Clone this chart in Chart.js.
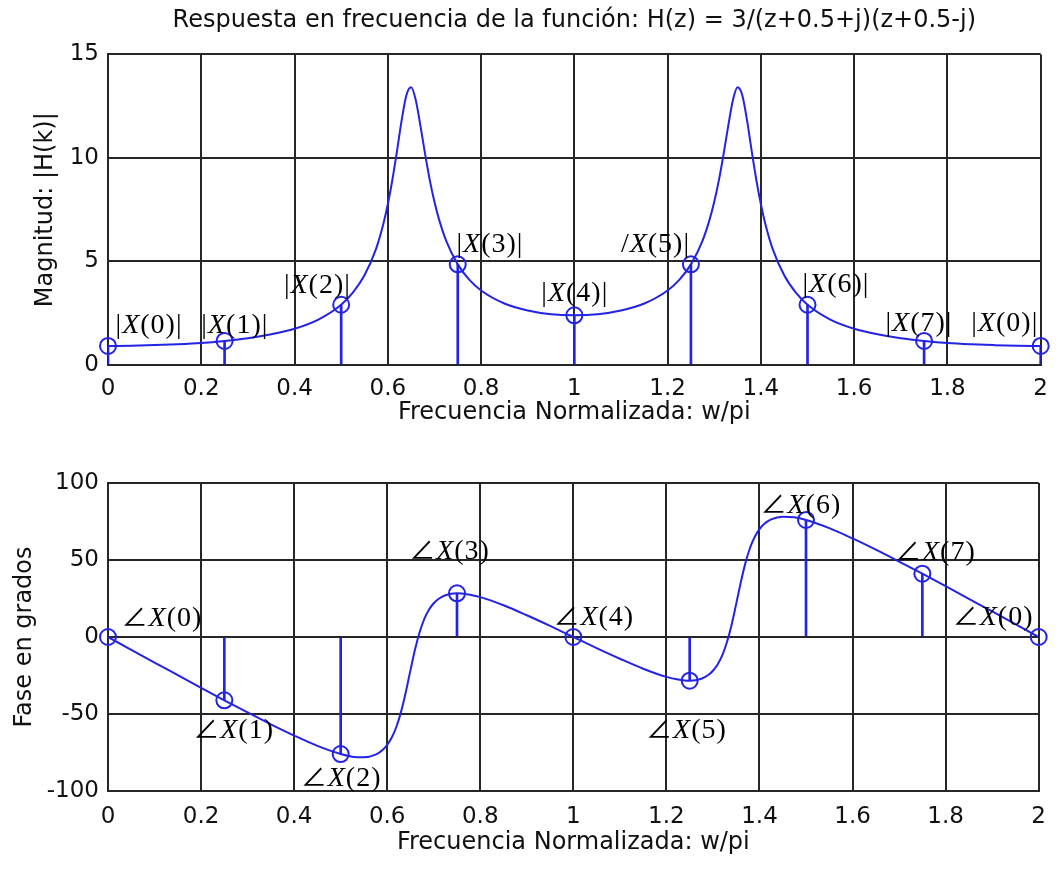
<!DOCTYPE html>
<html>
<head>
<meta charset="utf-8">
<script src="https://cdn.jsdelivr.net/npm/chart.js@4.4.0/dist/chart.umd.min.js"></script>
<style>
  html, body { margin: 0; padding: 0; background: #fff; }
  #wrap { position: relative; width: 1058px; height: 869px; }
  canvas { position: absolute; left: 0; }
</style>
</head>
<body>
<div id="wrap">
  <canvas id="magChart" width="1058" height="440" style="top:0;width:1058px;height:440px"></canvas>
  <canvas id="faseChart" width="1058" height="429" style="top:440px;width:1058px;height:429px"></canvas>
</div>
<script>
// Curva continua (w/pi, magnitud, fase en grados)
const frecuencia = [0, 0.05, 0.1, 0.15, 0.2, 0.25, 0.3, 0.35, 0.4, 0.45,
  0.5, 0.525, 0.55, 0.575, 0.59, 0.6, 0.61, 0.62, 0.63, 0.64,
  0.65, 0.66, 0.67, 0.68, 0.69, 0.7, 0.71, 0.725, 0.75, 0.775,
  0.8, 0.85, 0.9, 0.95, 1.0,
  1.05, 1.1, 1.15, 1.2, 1.225, 1.25, 1.275, 1.29, 1.3, 1.31,
  1.32, 1.33, 1.34, 1.35, 1.36, 1.37, 1.38, 1.39, 1.4, 1.41,
  1.425, 1.45, 1.475, 1.5, 1.55, 1.6, 1.65, 1.7, 1.75, 1.8,
  1.85, 1.9, 1.95, 2.0];

const magnitud = [0.92, 0.93, 0.96, 1.00, 1.06, 1.16, 1.29, 1.48, 1.75, 2.18,
  2.91, 3.49, 4.33, 5.62, 6.77, 7.76, 8.97, 10.38, 11.86, 13.04,
  13.41, 12.79, 11.55, 10.18, 8.93, 7.88, 7.02, 6.01, 4.86, 4.11,
  3.60, 2.97, 2.63, 2.45, 2.40,
  2.45, 2.63, 2.97, 3.60, 4.11, 4.86, 6.01, 7.02, 7.88, 8.93,
  10.18, 11.55, 12.79, 13.41, 13.04, 11.86, 10.38, 8.97, 7.76, 6.77,
  5.62, 4.33, 3.49, 2.91, 2.18, 1.75, 1.48, 1.29, 1.16, 1.06,
  1.00, 0.96, 0.93, 0.92];

const fase = [0, -8.3, -16.6, -24.8, -33.0, -41.1, -49.0, -56.7, -64.0, -70.7,
  -76.0, -77.7, -78.1, -76.4, -73.4, -70.0, -65.1, -58.1, -48.3, -35.7,
  -21.5, -7.8, 3.4, 11.9, 17.8, 21.9, 24.7, 27.1, 28.4, 27.6,
  25.9, 20.6, 14.1, 7.2, 0,
  -7.2, -14.1, -20.6, -25.9, -27.6, -28.4, -27.1, -24.7, -21.9, -17.8,
  -11.9, -3.4, 7.8, 21.5, 35.7, 48.3, 58.1, 65.1, 70.0, 73.4,
  76.4, 78.1, 77.7, 76.0, 70.7, 64.0, 56.7, 49.0, 41.1, 33.0,
  24.8, 16.6, 8.3, 0];

// Muestras X(k) de la DFT de 8 puntos
const frecK = [0, 0.25, 0.5, 0.75, 1, 1.25, 1.5, 1.75, 2];
const magK = [0.92, 1.16, 2.91, 4.86, 2.40, 4.86, 2.91, 1.16, 0.92];
const faseK = [0, -41.1, -76.0, 28.4, 0, -28.4, 76.0, 41.1, 0];

// Textos de las etiquetas
const textosMag = ['|X(0)|', '|X(1)|', '|X(2)|', '|X(3)|', '|X(4)|', '/X(5)|', '|X(6)|', '|X(7)|', '|X(0)|'];
const textosFase = ['\u2220X(0)', '\u2220X(1)', '\u2220X(2)', '\u2220X(3)', '\u2220X(4)', '\u2220X(5)', '\u2220X(6)', '\u2220X(7)', '\u2220X(0)'];

// Donde va el centro de cada etiqueta (unidades de los ejes)
const posMag = [[0.088, 1.93], [0.272, 1.93], [0.449, 3.86], [0.819, 5.84], [1.001, 3.47],
  [1.174, 5.84], [1.561, 3.91], [1.739, 2.03], [1.923, 2.03]];
const posFase = [[0.116, 12.3], [0.270, -60.6], [0.501, -91.6], [0.734, 55.5], [1.044, 12.9],
  [1.243, -60.6], [1.489, 85.2], [1.778, 54.8], [1.902, 12.9]];

const azul = 'rgb(35,35,230)';
const rejilla = '#262626';
const tamLetra = 28;

Chart.defaults.font.family = "'DejaVu Sans', sans-serif";
Chart.defaults.color = '#111';

function pluginEtiquetas(textos, posiciones) {
  return {
    id: 'etiquetas',
    afterDatasetsDraw(chart) {
      const { ctx, scales: { x, y } } = chart;
      const normal = tamLetra + "px 'Liberation Serif', 'Times New Roman', serif";
      const cursiva = 'italic ' + normal;
      const angulo = "26px 'Noto Sans CJK JP', 'Liberation Serif', serif";
      ctx.save();
      ctx.fillStyle = '#000';
      ctx.textAlign = 'left';
      ctx.textBaseline = 'alphabetic';
      if ('letterSpacing' in ctx) ctx.letterSpacing = '1px';
      textos.forEach((t, i) => {
        const k = t.indexOf('X');
        const pre = t.slice(0, k);
        const partes = [[pre, pre === '\u2220' ? angulo : normal], ['X', cursiva], [t.slice(k + 1), normal]];
        let ancho = 0;
        partes.forEach(p => { ctx.font = p[1]; ancho += ctx.measureText(p[0]).width; });
        let px = x.getPixelForValue(posiciones[i][0]) - ancho / 2;
        const py = y.getPixelForValue(posiciones[i][1]) + 0.27 * tamLetra;
        partes.forEach(p => {
          ctx.font = p[1];
          ctx.fillText(p[0], px, py);
          px += ctx.measureText(p[0]).width;
        });
      });
      ctx.restore();
    }
  };
}

function crearGrafica(id, cfg) {
  const curva = frecuencia.map((f, i) => ({ x: f, y: cfg.curva[i] }));
  const tallos = frecK.map((f, i) => ({ x: f, y: [0, cfg.muestras[i]] }));
  const marcas = frecK.map((f, i) => ({ x: f, y: cfg.muestras[i] }));

  return new Chart(document.getElementById(id).getContext('2d'), {
    type: 'line',
    data: {
      datasets: [
        {
          data: curva,
          borderColor: azul,
          borderWidth: 2,
          pointRadius: 0,
          fill: false,
          cubicInterpolationMode: 'monotone'
        },
        {
          type: 'bar',
          data: tallos,
          backgroundColor: azul,
          borderWidth: 0,
          barThickness: 2
        },
        {
          data: marcas,
          showLine: false,
          pointRadius: 8,
          pointBorderWidth: 2,
          pointBorderColor: azul,
          pointBackgroundColor: 'rgba(0,0,0,0)',
          clip: false
        }
      ]
    },
    options: {
      responsive: false,
      animation: false,
      layout: { padding: { top: cfg.padTop, right: 15, left: 0, bottom: 0 } },
      plugins: {
        legend: { display: false },
        tooltip: { enabled: false },
        title: {
          display: !!cfg.titulo,
          text: cfg.titulo || '',
          fullSize: false,
          font: { size: 24, weight: 'normal' },
          color: '#111',
          padding: { top: 6, bottom: 19.6 }
        }
      },
      scales: {
        x: {
          type: 'linear',
          min: 0,
          max: 2,
          offset: false,
          ticks: {
            stepSize: 0.2,
            padding: cfg.padTicksX,
            autoSkip: false,
            maxRotation: 0,
            font: { size: 23 },
            color: '#111',
            callback: v => String(Math.round(v * 10) / 10)
          },
          grid: { color: rejilla, lineWidth: 2, drawTicks: false, offset: false },
          border: { color: rejilla, width: 2 },
          title: {
            display: true,
            text: 'Frecuencia Normalizada: w/pi',
            font: { size: 24 },
            color: '#111',
            padding: { top: 0, bottom: cfg.padTituloX }
          },
          afterFit: s => { s.height = cfg.altoEjeX; }
        },
        y: {
          min: cfg.yMin,
          max: cfg.yMax,
          ticks: {
            stepSize: cfg.paso,
            padding: 9,
            font: { size: 23 },
            color: '#111'
          },
          grid: { color: rejilla, lineWidth: 2, drawTicks: false },
          border: { color: rejilla, width: 2 },
          title: {
            display: true,
            text: cfg.tituloY,
            font: { size: 24 },
            color: '#111',
            padding: { top: cfg.padTituloY, bottom: 0 }
          },
          afterFit: s => { s.width = 108; }
        }
      }
    },
    plugins: [pluginEtiquetas(cfg.textos, cfg.posiciones)]
  });
}

crearGrafica('magChart', {
  curva: magnitud,
  muestras: magK,
  textos: textosMag,
  posiciones: posMag,
  titulo: 'Respuesta en frecuencia de la función: H(z) = 3/(z+0.5+j)(z+0.5-j)',
  tituloY: 'Magnitud: |H(k)|',
  yMin: 0, yMax: 15, paso: 5,
  padTop: 0,
  padTicksX: 10,
  padTituloX: 13,
  altoEjeX: 75,
  padTituloY: 31
});

crearGrafica('faseChart', {
  curva: fase,
  muestras: faseK,
  textos: textosFase,
  posiciones: posFase,
  titulo: null,
  tituloY: 'Fase en grados',
  yMin: -100, yMax: 100, paso: 50,
  padTop: 43,
  padTicksX: 12,
  padTituloX: 12,
  altoEjeX: 78,
  padTituloY: 10
});
</script>
</body>
</html>
